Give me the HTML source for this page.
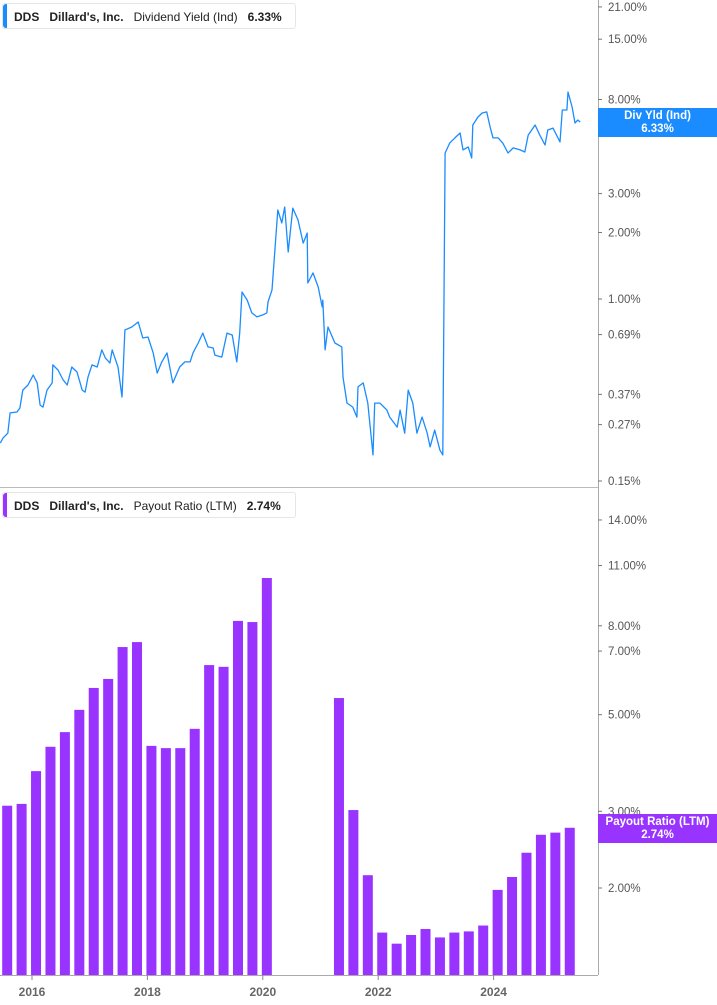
<!DOCTYPE html>
<html><head><meta charset="utf-8"><style>
body{margin:0;width:717px;height:1005px;background:#fff;font-family:"Liberation Sans",sans-serif;overflow:hidden;position:relative}
.leg{position:absolute;left:2px;height:26px;border:1px solid #e6e6e6;border-radius:3px;background:#fff;font-size:12px;line-height:26px;color:#222;padding-left:11px;box-sizing:border-box}
.leg .bar{position:absolute;left:0;top:0;width:4px;height:100%;border-radius:3px 0 0 3px}
.tag{position:absolute;left:598px;width:119px;color:#fff;font-size:11.5px;font-weight:bold;text-align:center;line-height:13px;padding-top:2px;box-sizing:border-box}
</style></head><body>
<svg id="chart" width="717" height="1005" style="position:absolute;left:0;top:0"></svg>
<div class="leg" style="top:3px;width:294px"><span class="bar" style="background:#1a8cff"></span><b>DDS</b>&nbsp;&nbsp;&nbsp;<b>Dillard's, Inc.</b>&nbsp;&nbsp;&nbsp;Dividend Yield (Ind)&nbsp;&nbsp;&nbsp;<b>6.33%</b></div>
<div class="leg" style="top:492px;width:294px"><span class="bar" style="background:#9933ff"></span><b>DDS</b>&nbsp;&nbsp;&nbsp;<b>Dillard's, Inc.</b>&nbsp;&nbsp;&nbsp;Payout Ratio (LTM)&nbsp;&nbsp;&nbsp;<b>2.74%</b></div>
<div class="tag" style="top:108px;height:29px;background:#1a8cff">Div Yld (Ind)<br>6.33%</div>
<div class="tag" style="top:814px;height:29px;background:#9933ff">Payout Ratio (LTM)<br>2.74%</div>
<script>
const yieldDates=[2015.45,2015.50,2015.58,2015.62,2015.74,2015.79,2015.84,2015.93,2016.02,2016.09,2016.14,2016.19,2016.26,2016.35,2016.36,2016.45,2016.54,2016.61,2016.69,2016.78,2016.87,2016.92,2016.97,2017.04,2017.13,2017.21,2017.27,2017.35,2017.39,2017.49,2017.56,2017.61,2017.73,2017.84,2017.92,2018.01,2018.10,2018.17,2018.25,2018.34,2018.44,2018.56,2018.65,2018.74,2018.79,2018.88,2018.96,2019.05,2019.14,2019.17,2019.29,2019.38,2019.47,2019.55,2019.60,2019.64,2019.73,2019.81,2019.90,2020.00,2020.07,2020.09,2020.16,2020.21,2020.26,2020.33,2020.38,2020.44,2020.52,2020.61,2020.70,2020.77,2020.78,2020.87,2020.96,2021.03,2021.04,2021.08,2021.13,2021.25,2021.37,2021.39,2021.46,2021.56,2021.63,2021.65,2021.74,2021.82,2021.91,2021.94,2022.03,2022.15,2022.20,2022.33,2022.38,2022.46,2022.52,2022.60,2022.67,2022.76,2022.85,2022.90,2022.98,2023.07,2023.12,2023.16,2023.24,2023.33,2023.42,2023.47,2023.56,2023.62,2023.64,2023.73,2023.80,2023.88,2023.94,2023.99,2024.08,2024.16,2024.25,2024.34,2024.46,2024.54,2024.60,2024.72,2024.80,2024.89,2024.94,2025.03,2025.15,2025.19,2025.27,2025.29,2025.36,2025.41,2025.46,2025.50];
const yieldValues=[0.223,0.235,0.247,0.305,0.308,0.321,0.387,0.408,0.453,0.417,0.331,0.324,0.387,0.417,0.503,0.477,0.430,0.408,0.492,0.467,0.387,0.379,0.443,0.503,0.492,0.588,0.541,0.513,0.588,0.492,0.360,0.724,0.747,0.787,0.666,0.673,0.570,0.462,0.519,0.570,0.417,0.492,0.519,0.519,0.570,0.632,0.701,0.607,0.600,0.557,0.546,0.701,0.687,0.519,0.701,1.076,0.989,0.865,0.830,0.847,0.865,0.969,1.099,1.667,2.53,2.21,2.61,1.633,2.58,2.28,1.79,1.99,1.181,1.312,1.133,0.920,0.989,0.588,0.747,0.632,0.607,0.443,0.338,0.324,0.292,0.400,0.417,0.338,0.197,0.338,0.338,0.314,0.292,0.263,0.314,0.247,0.387,0.338,0.247,0.292,0.247,0.214,0.255,0.207,0.197,4.58,5.08,5.36,5.64,4.73,4.88,4.35,6.13,6.67,6.95,7.03,6.01,5.36,5.36,5.08,4.58,4.83,4.73,4.63,5.52,6.13,5.52,4.98,5.82,5.94,5.14,7.17,7.17,8.65,7.40,6.26,6.46,6.33];
const payoutQuarters=[2015.57,2015.82,2016.07,2016.32,2016.57,2016.82,2017.07,2017.32,2017.57,2017.82,2018.07,2018.32,2018.57,2018.82,2019.07,2019.32,2019.57,2019.82,2020.07,2020.32,2020.57,2020.82,2021.07,2021.32,2021.57,2021.82,2022.07,2022.32,2022.57,2022.82,2023.07,2023.32,2023.57,2023.82,2024.07,2024.32,2024.57,2024.82,2025.07,2025.32];
const payoutValues=[3.09,3.12,3.71,4.22,4.56,5.13,5.76,6.04,7.15,7.34,4.24,4.19,4.19,4.64,6.50,6.44,8.21,8.16,10.30,null,null,null,null,5.46,3.02,2.14,1.58,1.49,1.56,1.61,1.54,1.58,1.59,1.64,1.98,2.12,2.41,2.65,2.68,2.75];
const yieldTicks=[21,15,8,3,2,1,0.69,0.37,0.27,0.15];
const payoutTicks=[14,11,8,7,5,3,2];
const yearTicks=[2016,2018,2020,2022,2024];

const NS='http://www.w3.org/2000/svg';
const svg=document.getElementById('chart');
const xS=y=>32+(y-2016)*57.7;
const yTop=v=>299-Math.log10(v)*220.9;
const yBot=v=>888-(Math.log10(v)-Math.log10(2))*435.5;
function mk(t,a){const e=document.createElementNS(NS,t);for(const k in a)e.setAttribute(k,a[k]);svg.appendChild(e);return e;}

let e=mk('line',{x1:0,y1:487.5,x2:598,y2:487.5,stroke:'#bbb'});


e=mk('line',{x1:598.5,y1:0,x2:598.5,y2:975,stroke:'#aaa'});


e=mk('line',{x1:0,y1:975.5,x2:598,y2:975.5,stroke:'#aaa'});



payoutQuarters.forEach((q,i)=>{const v=payoutValues[i];if(v==null)return;
 const x=xS(q),y=yBot(v);
 const r=mk('rect',{x:x-5,y:y,width:10,height:975-y,fill:'#9933ff'});
 
 
});

let d='';yieldDates.forEach((t,i)=>{d+=(i?'L':'M')+xS(t).toFixed(1)+','+yTop(yieldValues[i]).toFixed(1);});
e=mk('path',{d:d,fill:'none',stroke:'#1a8cff','stroke-width':1.3,'stroke-linejoin':'round'});



function tick(y,label,name){
 const l=mk('line',{x1:598,y1:y,x2:602,y2:y,stroke:'#777'});
 
 
 const t=mk('text',{x:608,y:y+4,'font-size':11.5,fill:'#555','font-family':'Liberation Sans, sans-serif'});
 t.textContent=label;
 
 
}
yieldTicks.forEach(v=>tick(yTop(v),v.toFixed(2)+'%','yield-axis'));
payoutTicks.forEach(v=>tick(yBot(v),v.toFixed(2)+'%','payout-axis'));
yearTicks.forEach(yr=>{const x=xS(yr);
 const l=mk('line',{x1:x,y1:975,x2:x,y2:980,stroke:'#888'});
 
 
 const t=mk('text',{x:x,y:996,'text-anchor':'middle','font-size':12,'font-weight':'bold',fill:'#666','font-family':'Liberation Sans, sans-serif'});
 t.textContent=yr;
 
 
});
</script>
</body></html>
